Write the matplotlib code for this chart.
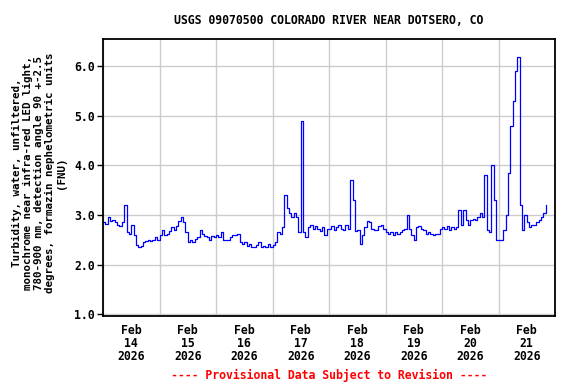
import numpy as np
import pandas as pd
import matplotlib
matplotlib.use("Agg")
import matplotlib.pyplot as plt
import matplotlib.dates as mdates

# Hourly turbidity values (FNU), starting 2026-02-14 00:00
day0 = [2.85, 2.82, 2.95, 2.88, 2.9, 2.85, 2.8, 2.78, 2.85, 3.2, 2.65, 2.62,
        2.8, 2.6, 2.4, 2.35, 2.38, 2.45, 2.48, 2.5, 2.47, 2.5, 2.55, 2.5]
day1 = [2.6, 2.7, 2.6, 2.62, 2.68, 2.75, 2.7, 2.78, 2.88, 2.95, 2.85, 2.65,
        2.45, 2.5, 2.45, 2.52, 2.55, 2.7, 2.62, 2.58, 2.55, 2.5, 2.58, 2.55]
day2 = [2.6, 2.55, 2.65, 2.5, 2.5, 2.5, 2.55, 2.6, 2.6, 2.62, 2.45, 2.42,
        2.45, 2.38, 2.42, 2.35, 2.35, 2.4, 2.45, 2.35, 2.38, 2.35, 2.42, 2.35]
day3 = [2.4, 2.45, 2.65, 2.62, 2.75, 3.4, 3.15, 3.05, 2.95, 3.05, 2.95, 2.65,
        4.9, 2.65, 2.55, 2.75, 2.8, 2.72, 2.78, 2.72, 2.68, 2.75, 2.6, 2.72]
day4 = [2.72, 2.78, 2.7, 2.75, 2.8, 2.72, 2.7, 2.8, 2.72, 3.7, 3.3, 2.68,
        2.7, 2.42, 2.6, 2.75, 2.88, 2.85, 2.72, 2.7, 2.7, 2.78, 2.8, 2.72]
day5 = [2.65, 2.62, 2.65, 2.6, 2.65, 2.62, 2.65, 2.7, 2.72, 3.0, 2.72, 2.6,
        2.5, 2.75, 2.78, 2.72, 2.7, 2.62, 2.65, 2.62, 2.6, 2.62, 2.62, 2.72]
day6 = [2.75, 2.72, 2.78, 2.7, 2.75, 2.72, 2.75, 3.1, 2.8, 3.1, 2.9, 2.8,
        2.9, 2.92, 2.9, 2.95, 3.05, 2.95, 3.8, 2.7, 2.65, 4.0, 3.3, 2.5]
day7 = [2.5, 2.5, 2.7, 3.0, 3.85, 4.8, 5.3, 5.9, 6.2, 3.2, 2.7, 3.0,
        2.85, 2.75, 2.8, 2.8, 2.85, 2.9, 2.95, 3.05, 3.2]

values = day0 + day1 + day2 + day3 + day4 + day5 + day6 + day7
times = pd.date_range("2026-02-14 00:00", periods=len(values), freq="h")

title = "USGS 09070500 COLORADO RIVER NEAR DOTSERO, CO"
ylabel = ("Turbidity, water, unfiltered,\n"
          "monochrome near infra-red LED light,\n"
          "780-900 nm, detection angle 90 +-2.5\n"
          "degrees, formazin nephelometric units\n"
          "(FNU)")
footer = "---- Provisional Data Subject to Revision ----"
day_labels = ["Feb\n14\n2026", "Feb\n15\n2026", "Feb\n16\n2026", "Feb\n17\n2026",
              "Feb\n18\n2026", "Feb\n19\n2026", "Feb\n20\n2026", "Feb\n21\n2026"]
yticks = [1.0, 2.0, 3.0, 4.0, 5.0, 6.0]

plt.rcParams['font.family'] = ['DejaVu Sans Mono']
plt.rcParams['font.weight'] = 'bold'
FS = 8.3

fig = plt.figure(figsize=(5.76, 3.84), dpi=100)
ax_l, ax_r, ax_t, ax_b = 103, 555, 39, 316
ax = fig.add_axes([ax_l/576, 1-ax_b/384, (ax_r-ax_l)/576, (ax_b-ax_t)/384])

ax.plot(times, values, color="#0000ff", lw=0.9, drawstyle="steps-post")

start = pd.Timestamp("2026-02-14")
end = pd.Timestamp("2026-02-22")
ax.set_xlim(start, end)
ax.set_ylim(0.96, 6.555)

# day boundaries: grid lines, no labels
ax.set_xticks(pd.date_range(start, end, freq="D"))
ax.set_xticklabels([])
ax.tick_params(axis='x', which='major', length=0)
# noon labels
noons = pd.date_range("2026-02-14 12:00", periods=len(day_labels), freq="D")
ax.set_xticks(noons, minor=True)
ax.set_xticklabels(day_labels, minor=True, fontsize=FS, fontweight='bold',
                   linespacing=1.0)
ax.tick_params(axis='x', which='minor', length=0, pad=6)

ax.set_yticks(yticks)
ax.set_yticklabels([f"{v:.1f}" for v in yticks], fontsize=FS, fontweight='bold')
ax.tick_params(axis='y', length=4, width=1, pad=2)

ax.grid(True, which='major', color="#cccccc", lw=1.0)
ax.set_axisbelow(True)
for s in ax.spines.values():
    s.set_linewidth(1.3)
    s.set_color("black")

xc = (ax_l + ax_r) / 2 / 576
fig.text(xc, 1-20/384, title, ha='center', va='center', fontsize=FS, fontweight='bold')
fig.text(39/576, 1-173/384, ylabel, ha='center', va='center', rotation=90,
         fontsize=7.8, fontweight='bold', linespacing=1.15, multialignment='center')
fig.text(xc, 1-375/384, footer, ha='center', va='center', fontsize=FS,
         fontweight='bold', color="#ff0000")

fig.savefig("out.png", dpi=100)
